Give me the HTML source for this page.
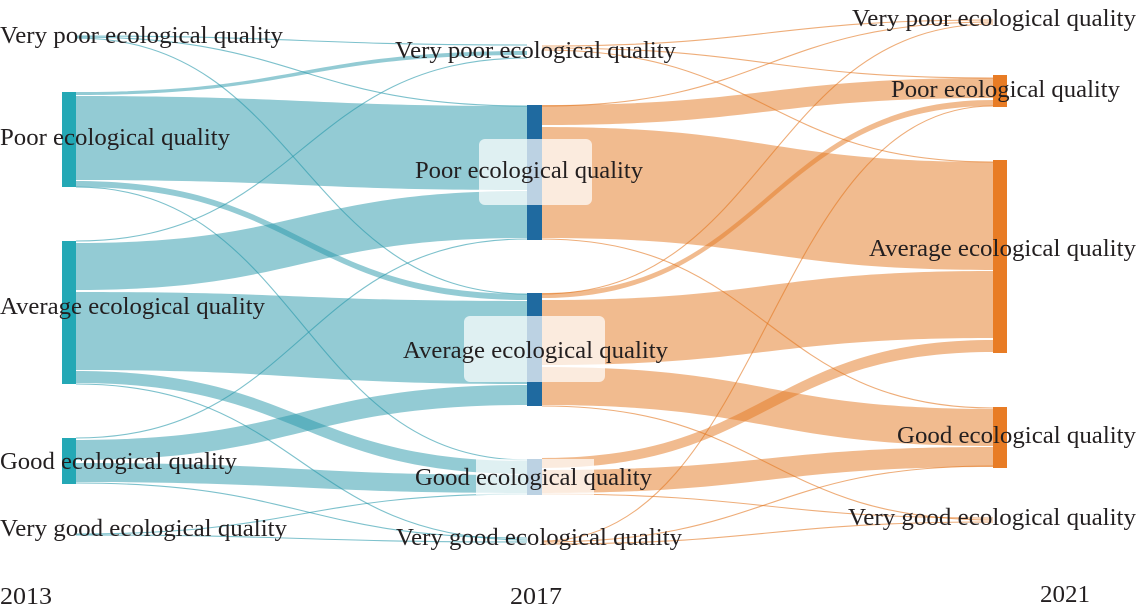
<!DOCTYPE html>
<html><head><meta charset="utf-8"><style>
html,body{margin:0;padding:0;background:#fff;width:1136px;height:606px;overflow:hidden}
svg text{font-family:"Liberation Serif",serif;font-size:24px;fill:#231f20}
</style></head><body>
<svg id="s" width="1136" height="606" xmlns="http://www.w3.org/2000/svg">
<g id="links"></g>
<rect x="62" y="92" width="14" height="95" fill="#24a8b5"/>
<rect x="62" y="241" width="14" height="143" fill="#24a8b5"/>
<rect x="62" y="438" width="14" height="46" fill="#24a8b5"/>
<rect x="527" y="105" width="15" height="135" fill="#1f6aa0"/>
<rect x="527" y="293" width="15" height="113" fill="#1f6aa0"/>
<rect x="527" y="459" width="15" height="36" fill="#1f6aa0"/>
<rect x="993" y="75" width="14" height="32" fill="#e87c25"/>
<rect x="993" y="160" width="14" height="193" fill="#e87c25"/>
<rect x="993" y="407" width="14" height="61" fill="#e87c25"/>
<rect x="479" y="139" width="113" height="66" rx="6" fill="#fff" fill-opacity="0.7"/>
<rect x="464" y="316" width="141" height="66" rx="6" fill="#fff" fill-opacity="0.7"/>
<rect x="476" y="459" width="118" height="36" fill="#fff" fill-opacity="0.7"/>
<text x="0" y="43" textLength="283" lengthAdjust="spacingAndGlyphs">Very poor ecological quality</text>
<text x="0" y="145" textLength="230" lengthAdjust="spacingAndGlyphs">Poor ecological quality</text>
<text x="0" y="314" textLength="265" lengthAdjust="spacingAndGlyphs">Average ecological quality</text>
<text x="0" y="469" textLength="237" lengthAdjust="spacingAndGlyphs">Good ecological quality</text>
<text x="0" y="536" textLength="287" lengthAdjust="spacingAndGlyphs">Very good ecological quality</text>
<text x="395" y="58" textLength="281" lengthAdjust="spacingAndGlyphs">Very poor ecological quality</text>
<text x="415" y="178" textLength="228" lengthAdjust="spacingAndGlyphs">Poor ecological quality</text>
<text x="403" y="358" textLength="265" lengthAdjust="spacingAndGlyphs">Average ecological quality</text>
<text x="415" y="485" textLength="237" lengthAdjust="spacingAndGlyphs">Good ecological quality</text>
<text x="396" y="545" textLength="286" lengthAdjust="spacingAndGlyphs">Very good ecological quality</text>
<text x="852" y="26" textLength="284" lengthAdjust="spacingAndGlyphs">Very poor ecological quality</text>
<text x="891" y="97" textLength="229" lengthAdjust="spacingAndGlyphs">Poor ecological quality</text>
<text x="869" y="256" textLength="267" lengthAdjust="spacingAndGlyphs">Average ecological quality</text>
<text x="897" y="443" textLength="239" lengthAdjust="spacingAndGlyphs">Good ecological quality</text>
<text x="848" y="525" textLength="288" lengthAdjust="spacingAndGlyphs">Very good ecological quality</text>
<text x="0" y="604" textLength="52" lengthAdjust="spacingAndGlyphs">2013</text>
<text x="510" y="604" textLength="52" lengthAdjust="spacingAndGlyphs">2017</text>
<text x="1040" y="602" textLength="50" lengthAdjust="spacingAndGlyphs">2021</text>
</svg>
<script>
var g=document.getElementById('links'),NS='http://www.w3.org/2000/svg';
function band(x0,a0,b0,x1,a1,b1,c){var m=(x0+x1)/2,p=document.createElementNS(NS,'path');
p.setAttribute('d','M'+x0+' '+a0+'C'+m+' '+a0+' '+m+' '+a1+' '+x1+' '+a1+'L'+x1+' '+b1+'C'+m+' '+b1+' '+m+' '+b0+' '+x0+' '+b0+'Z');
p.setAttribute('fill',c);p.setAttribute('fill-opacity','0.5');g.appendChild(p);}
function line(x0,y0,x1,y1,c){var m=(x0+x1)/2,p=document.createElementNS(NS,'path');
p.setAttribute('d','M'+x0+' '+y0+'C'+m+' '+y0+' '+m+' '+y1+' '+x1+' '+y1);
p.setAttribute('fill','none');p.setAttribute('stroke',c);p.setAttribute('stroke-opacity','0.6');p.setAttribute('stroke-width','1.1');g.appendChild(p);}
var T='rgb(39,151,170)',O='rgb(227,119,31)',L=76,M0=527,M1=542,R=993;
line(76,36,M0,45,T);line(76,37,M0,106,T);line(76,38,M0,294,T);
band(L,92,95,M0,51,55,T);
band(L,96,180,M0,106,190,T);
band(L,181,187,M0,294,300,T);
line(L,187,M0,460,T);
line(L,241,M0,58,T);
band(L,243,290,M0,191,238,T);
band(L,292,370,M0,301,384,T);
band(L,371,383,M0,461,474,T);
line(L,384,M0,540,T);
line(L,438,M0,239,T);
band(L,440,460,M0,385,405,T);
band(L,463,482,M0,475,493,T);
line(L,483,M0,538,T);
line(76,534,M0,494,T);line(76,535,M0,542,T);
line(M1,46,R,20,O);line(M1,48,R,78,O);line(M1,50,R,162,O);
band(M1,105,125,R,78,98,O);
band(M1,127,238,R,162,270,O);
line(M1,239,R,408,O);line(M1,106,R,22,O);
band(M1,293,298,R,100,106,O);
band(M1,300,365,R,271,338,O);
band(M1,367,405,R,409,446,O);
line(M1,406,R,520,O);line(M1,294,R,24,O);
band(M1,458,468,R,340,352,O);
band(M1,470,493,R,447,467,O);
line(M1,494,R,518,O);line(M1,544,R,522,O);line(M1,542,R,466,O);line(M1,541,R,106,O);
</script>
</body></html>
